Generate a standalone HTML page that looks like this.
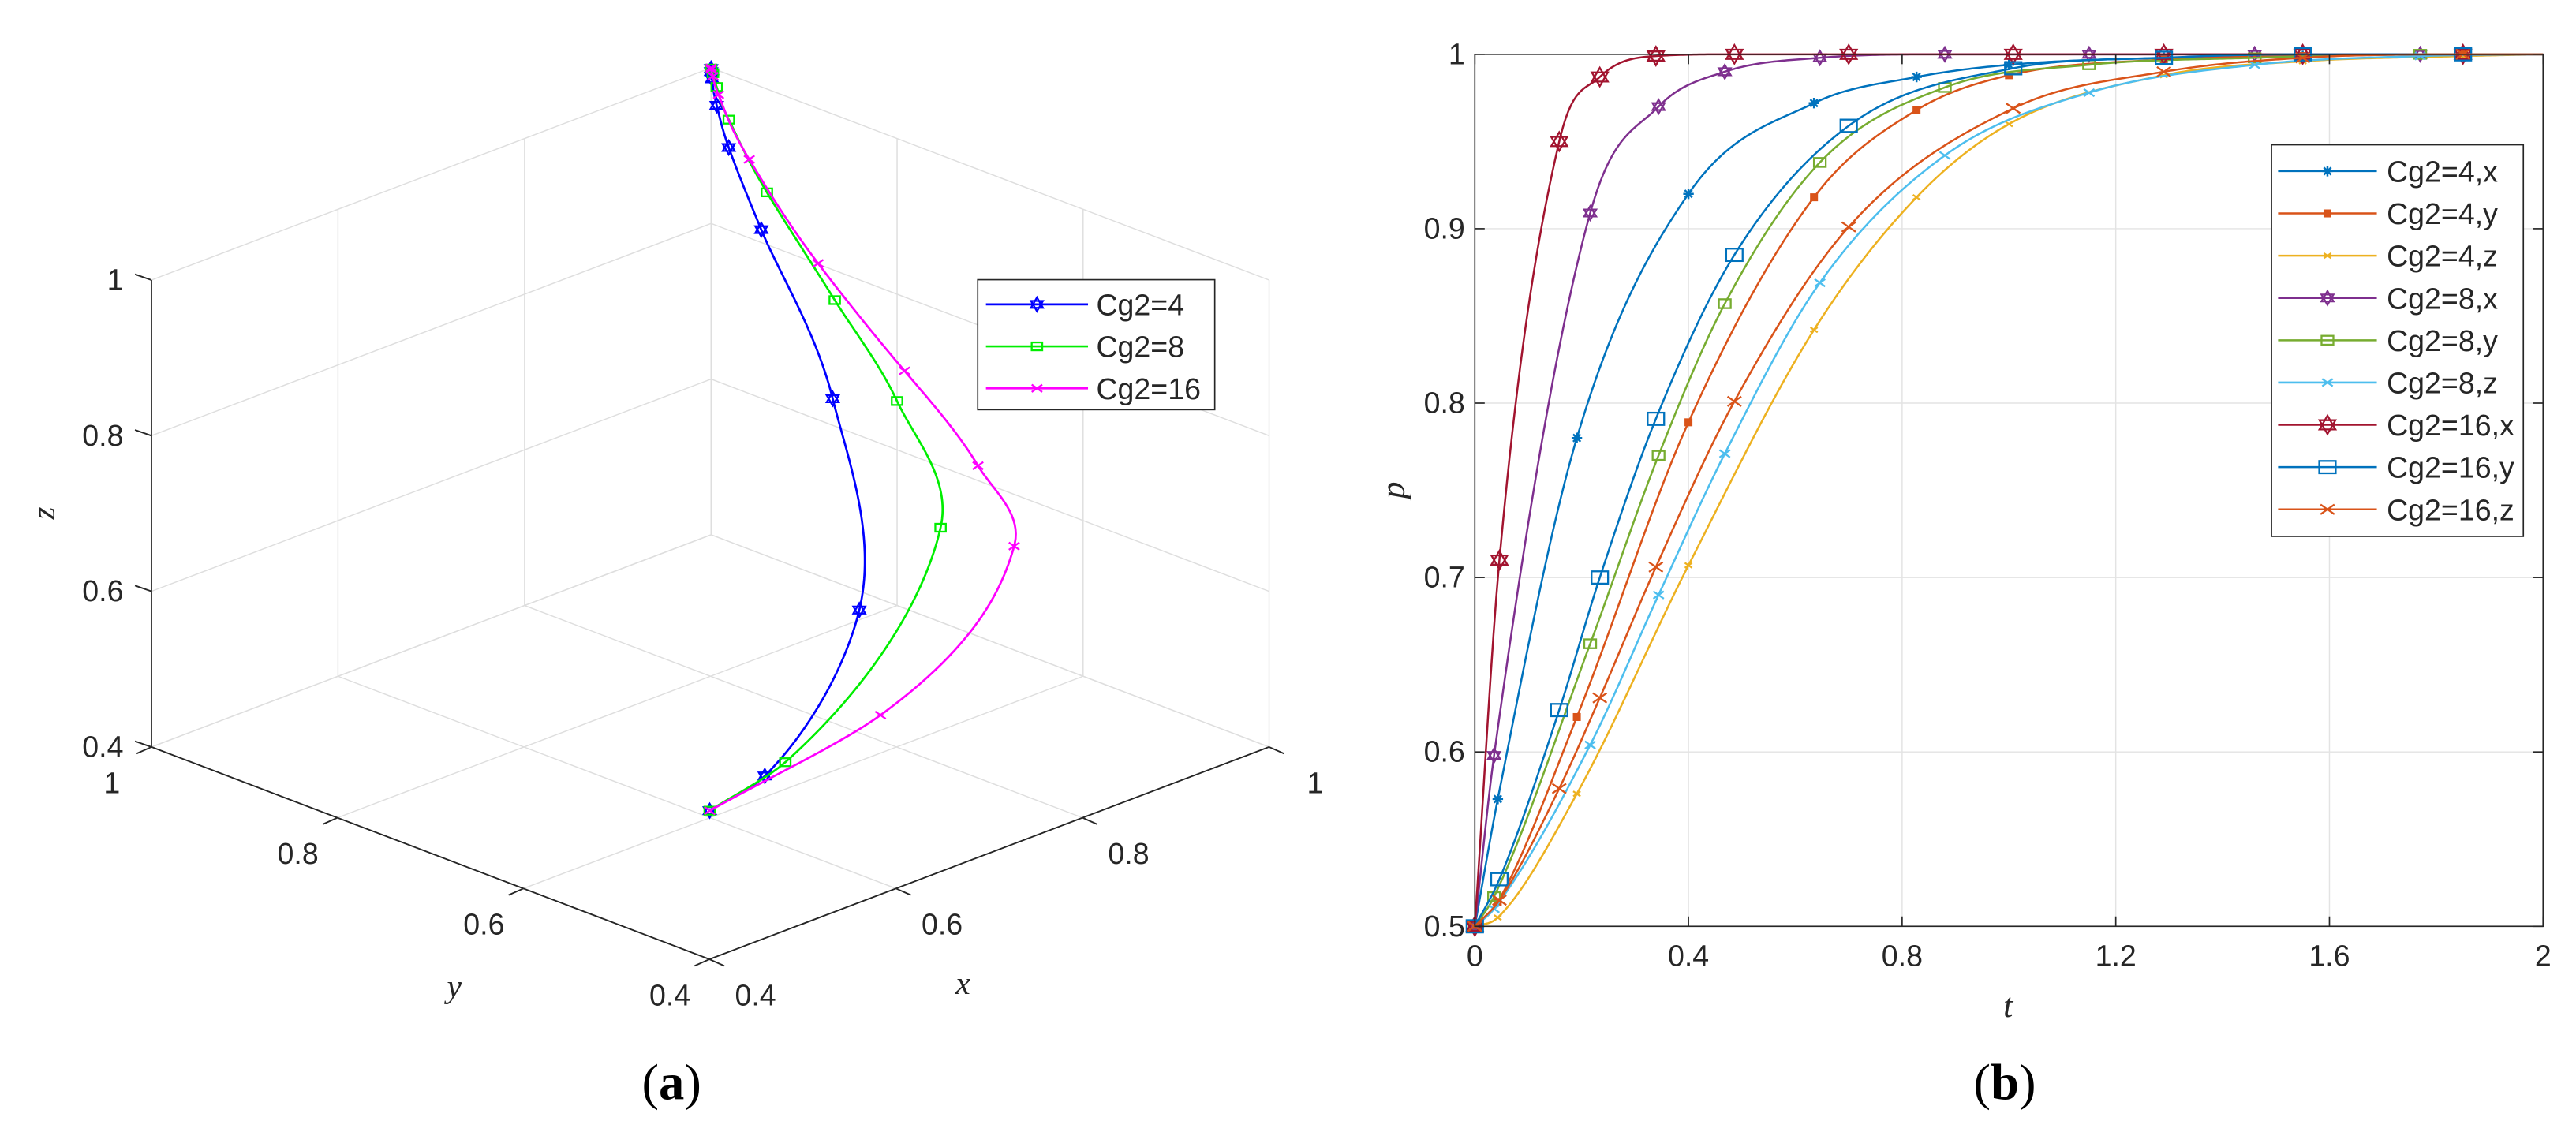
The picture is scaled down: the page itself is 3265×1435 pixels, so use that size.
<!DOCTYPE html>
<html><head><meta charset="utf-8"><style>
html,body{margin:0;padding:0;background:#fff;}
svg{display:block;}
text{font-family:"Liberation Sans",sans-serif;fill:#262626;}
.it{font-family:"Liberation Serif",serif;font-style:italic;}
.cap{font-family:"Liberation Serif",serif;fill:#000;}
</style></head><body>
<svg id="fig" width="3265" height="1435" viewBox="0 0 1565 688" preserveAspectRatio="none" xmlns="http://www.w3.org/2000/svg">
<g id="pa"></g>
<g id="pb"></g>
<text class="cap" x="408" y="668" font-size="31" text-anchor="middle">(<tspan font-weight="bold">a</tspan>)</text>
<text class="cap" x="1218" y="668" font-size="31" text-anchor="middle">(<tspan font-weight="bold">b</tspan>)</text>
</svg>
<script>
// ---- data (time t, probability p) ----
const t4 = [0,0.043,0.191,0.4,0.635,0.827,1.0,1.29,1.55,1.85,2];
const cg4x = [0.5,0.573,0.78,0.92,0.972,0.987,0.994,0.998,0.999,1,1];
const cg4y = [0.5,0.514,0.62,0.789,0.918,0.968,0.988,0.997,0.999,1,1];
const cg4z = [0.5,0.505,0.576,0.707,0.842,0.918,0.96,0.988,0.996,0.999,1];
const t8 = [0,0.036,0.216,0.344,0.468,0.646,0.88,1.15,1.46,1.77,2];
const cg8x = [0.5,0.598,0.909,0.970,0.990,0.998,1,1,1,1,1];
const cg8y = [0.5,0.517,0.662,0.770,0.857,0.938,0.981,0.994,0.998,1,1];
const cg8z = [0.5,0.51,0.604,0.690,0.771,0.869,0.942,0.978,0.994,0.999,1];
const t16 = [0,0.046,0.158,0.234,0.339,0.486,0.70,1.008,1.29,1.55,1.85,2];
const cg16x = [0.5,0.71,0.95,0.987,0.999,1,1,1,1,1,1,1];
const cg16y = [0.5,0.527,0.624,0.700,0.791,0.885,0.959,0.992,0.998,1,1,1];
const cg16z = [0.5,0.515,0.579,0.631,0.706,0.801,0.901,0.969,0.99,0.998,1,1];
const tTicks = [0,0.4,0.8,1.2,1.6,2];
const tTickLabels = ["0","0.4","0.8","1.2","1.6","2"];
const pTicks = [0.5,0.6,0.7,0.8,0.9,1];
const pTickLabels = ["0.5","0.6","0.7","0.8","0.9","1"];
const cubeTicks = [0.4,0.6,0.8,1];
const cubeTickLabels = ["0.4","0.6","0.8","1"];
const seriesNamesB = ["Cg2=4,x","Cg2=4,y","Cg2=4,z","Cg2=8,x","Cg2=8,y","Cg2=8,z","Cg2=16,x","Cg2=16,y","Cg2=16,z"];
const seriesNamesA = ["Cg2=4","Cg2=8","Cg2=16"];

const NS="http://www.w3.org/2000/svg";
function mk(parent,tag,attrs){const e=document.createElementNS(NS,tag);for(const k in attrs)e.setAttribute(k,attrs[k]);parent.appendChild(e);return e;}

function interp(xs,ys,x){
  const n=xs.length;
  if(x<=xs[0])return ys[0]; if(x>=xs[n-1])return ys[n-1];
  const d=[],m=[];
  for(let i=0;i<n-1;i++)d.push((ys[i+1]-ys[i])/(xs[i+1]-xs[i]));
  m[0]=d[0]; m[n-1]=d[n-2];
  for(let i=1;i<n-1;i++){ if(d[i-1]*d[i]<=0)m[i]=0; else m[i]=(d[i-1]+d[i])/2; }
  for(let i=0;i<n-1;i++){ if(d[i]===0){m[i]=0;m[i+1]=0;continue;} const a=m[i]/d[i],b=m[i+1]/d[i],s=a*a+b*b; if(s>9){const tt=3/Math.sqrt(s);m[i]=tt*a*d[i];m[i+1]=tt*b*d[i];} }
  let i=0; while(x>xs[i+1])i++;
  const h=xs[i+1]-xs[i], u=(x-xs[i])/h;
  const h00=2*u*u*u-3*u*u+1,h10=u*u*u-2*u*u+u,h01=-2*u*u*u+3*u*u,h11=u*u*u-u*u;
  return h00*ys[i]+h10*h*m[i]+h01*ys[i+1]+h11*h*m[i+1];
}

function marker(g,type,cx,cy,s,color){
  let e;
  if(type==='hex'){
    let p1='',p2='';
    for(let k=0;k<3;k++){const a1=-Math.PI/2+k*2*Math.PI/3,a2=Math.PI/2+k*2*Math.PI/3;
      p1+=(cx+s*Math.cos(a1)).toFixed(2)+','+(cy+s*Math.sin(a1)).toFixed(2)+' ';
      p2+=(cx+s*Math.cos(a2)).toFixed(2)+','+(cy+s*Math.sin(a2)).toFixed(2)+' ';}
    e=mk(g,'g',{});
    mk(e,'polygon',{points:p1,fill:'none',stroke:color,'stroke-width':1.1});
    mk(e,'polygon',{points:p2,fill:'none',stroke:color,'stroke-width':1.1});
  } else if(type==='sq'){
    e=mk(g,'rect',{x:cx-s,y:cy-s*0.75,width:2*s,height:1.5*s,fill:'none',stroke:color,'stroke-width':1.1});
  } else if(type==='fsq'){
    e=mk(g,'rect',{x:cx-s,y:cy-s,width:2*s,height:2*s,fill:color,stroke:color,'stroke-width':0.8});
  } else if(type==='x'){
    e=mk(g,'path',{d:`M${cx-s},${cy-s*0.7}L${cx+s},${cy+s*0.7}M${cx-s},${cy+s*0.7}L${cx+s},${cy-s*0.7}`,stroke:color,'stroke-width':1.1,fill:'none'});
  } else if(type==='star'){
    e=mk(g,'path',{d:`M${cx-s},${cy}L${cx+s},${cy}M${cx},${cy-s}L${cx},${cy+s}M${cx-s*0.7},${cy-s*0.7}L${cx+s*0.7},${cy+s*0.7}M${cx-s*0.7},${cy+s*0.7}L${cx+s*0.7},${cy-s*0.7}`,stroke:color,'stroke-width':1.2,fill:'none'});
  }
  return e;
}

// ================= Panel B =================
const pb=document.getElementById('pb');
const bx0=896,bx1=1545,by0=33,by1=563;
const tx=t=>bx0+(t-0)/(2-0)*(bx1-bx0);
const py=p=>by1-(p-0.5)/(1-0.5)*(by1-by0);
tTicks.forEach((t,i)=>{ if(i>0&&i<tTicks.length-1){const l=mk(pb,'line',{x1:tx(t),x2:tx(t),y1:by0,y2:by1,stroke:'#e3e3e3','stroke-width':0.7});

}});
pTicks.forEach((p,i)=>{ if(i>0&&i<pTicks.length-1){const l=mk(pb,'line',{x1:bx0,x2:bx1,y1:py(p),y2:py(p),stroke:'#e3e3e3','stroke-width':0.7});

}});
const bSeries=[
 {t:t4,p:cg4x,c:'#0072BD',m:'star',s:3.2},
 {t:t4,p:cg4y,c:'#D95319',m:'fsq',s:2},
 {t:t4,p:cg4z,c:'#EDB120',m:'x',s:2.2},
 {t:t8,p:cg8x,c:'#7E2F8E',m:'hex',s:4.2},
 {t:t8,p:cg8y,c:'#77AC30',m:'sq',s:3.6},
 {t:t8,p:cg8z,c:'#4DBEEE',m:'x',s:3.2},
 {t:t16,p:cg16x,c:'#A2142F',m:'hex',s:5.6},
 {t:t16,p:cg16y,c:'#0072BD',m:'sq',s:5},
 {t:t16,p:cg16z,c:'#D95319',m:'x',s:4.2}
];
bSeries.forEach((S,si)=>{
  const g=mk(pb,'g',{});
  
  
  let d='';
  for(let t=0;t<=2.0001;t+=0.005){d+=(d?'L':'M')+tx(t).toFixed(2)+','+py(interp(S.t,S.p,t)).toFixed(2);}
  const path=mk(g,'path',{d:d,fill:'none',stroke:S.c,'stroke-width':1.2});
  
  
  for(let i=0;i<S.t.length-1;i++){
    const mm=marker(g,S.m,tx(S.t[i]),py(S.p[i]),S.s,S.c);
    
    
  }
});
mk(pb,'rect',{x:bx0,y:by0,width:bx1-bx0,height:by1-by0,fill:'none',stroke:'#262626','stroke-width':0.8,});
tTicks.forEach((t,i)=>{
  mk(pb,'line',{x1:tx(t),x2:tx(t),y1:by1,y2:by1-6,stroke:'#262626','stroke-width':0.8});
  mk(pb,'line',{x1:tx(t),x2:tx(t),y1:by0,y2:by0+6,stroke:'#262626','stroke-width':0.8});
  const tl=mk(pb,'text',{x:tx(t),y:py(0.5)+24,'font-size':18,'text-anchor':'middle'});
  tl.textContent=tTickLabels[i];
  
  
});
pTicks.forEach((p,i)=>{
  mk(pb,'line',{x1:bx0,x2:bx0+6,y1:py(p),y2:py(p),stroke:'#262626','stroke-width':0.8});
  mk(pb,'line',{x1:bx1,x2:bx1-6,y1:py(p),y2:py(p),stroke:'#262626','stroke-width':0.8});
  const pl=mk(pb,'text',{x:bx0-6,y:py(p)+6,'font-size':18,'text-anchor':'end'});
  pl.textContent=pTickLabels[i];
  
  
});
const tlab=mk(pb,'text',{class:'it',x:1220,y:618,'font-size':21,'text-anchor':'middle'});tlab.textContent='t';


const plab=mk(pb,'text',{class:'it',x:0,y:0,'font-size':21,'text-anchor':'middle',transform:'translate(853,298) rotate(-90)'});plab.textContent='p';


const lgB=mk(pb,'g',{});


const LBx=1380,LBy=88,LBw=153,LBh=238;
mk(lgB,'rect',{x:LBx,y:LBy,width:LBw,height:LBh,fill:'#fff',stroke:'#262626','stroke-width':0.8});
bSeries.forEach((S,i)=>{
  const yy=LBy+16+i*25.7;
  const e=mk(lgB,'g',{});
  
  
  mk(e,'line',{x1:LBx+4,x2:LBx+64,y1:yy,y2:yy,stroke:S.c,'stroke-width':1.2});
  marker(e,S.m,LBx+34,yy,S.s,S.c);
  const tt=mk(e,'text',{x:LBx+70,y:yy+6.5,'font-size':18});tt.textContent=seriesNamesB[i];
});

// ================= Panel A =================
const pa=document.getElementById('pa');
const P=(x,y,z)=>[431+(x-0.4)*566.7-(y-0.4)*565, 583-(x-0.4)*215-(y-0.4)*215-(z-0.4)*473];
function line3(g,a,b,st,w){const p1=P(...a),p2=P(...b);return mk(g,'line',{x1:p1[0],y1:p1[1],x2:p2[0],y2:p2[1],stroke:st,'stroke-width':w});}
const gridA=mk(pa,'g',{});


const gc='#dedede',gw=0.7;
cubeTicks.forEach(v=>{
  line3(gridA,[v,1,0.4],[v,1,1],gc,gw);
  line3(gridA,[0.4,1,v],[1,1,v],gc,gw);
  line3(gridA,[1,v,0.4],[1,v,1],gc,gw);
  line3(gridA,[1,0.4,v],[1,1,v],gc,gw);
  line3(gridA,[v,0.4,0.4],[v,1,0.4],gc,gw);
  line3(gridA,[0.4,v,0.4],[1,v,0.4],gc,gw);
});
const axA=mk(pa,'g',{});


line3(axA,[0.4,1,0.4],[0.4,1,1],'#262626',0.9);
line3(axA,[0.4,1,0.4],[0.4,0.4,0.4],'#262626',0.9);
line3(axA,[0.4,0.4,0.4],[1,0.4,0.4],'#262626',0.9);
cubeTicks.forEach((v,i)=>{
  let p=P(0.4,1,v); mk(axA,'line',{x1:p[0],y1:p[1],x2:p[0]-10,y2:p[1]-3.5,stroke:'#262626','stroke-width':0.9});
  let t1=mk(axA,'text',{x:p[0]-17,y:p[1]+6,'font-size':18,'text-anchor':'end'});t1.textContent=cubeTickLabels[i];
  
  
  p=P(0.4,v,0.4); mk(axA,'line',{x1:p[0],y1:p[1],x2:p[0]-9,y2:p[1]+4,stroke:'#262626','stroke-width':0.9});
  let t2=mk(axA,'text',{x:p[0]-24,y:p[1]+28,'font-size':18,'text-anchor':'middle'});t2.textContent=cubeTickLabels[i];
  
  
  p=P(v,0.4,0.4); mk(axA,'line',{x1:p[0],y1:p[1],x2:p[0]+9,y2:p[1]+4,stroke:'#262626','stroke-width':0.9});
  let t3=mk(axA,'text',{x:p[0]+28,y:p[1]+28,'font-size':18,'text-anchor':'middle'});t3.textContent=cubeTickLabels[i];
  
  
});
const zl=mk(pa,'text',{class:'it',x:0,y:0,'font-size':20,'text-anchor':'middle',transform:'translate(33,312) rotate(-90)'});zl.textContent='z';


const yl=mk(pa,'text',{class:'it',x:276,y:606,'font-size':20,'text-anchor':'middle'});yl.textContent='y';


const xl=mk(pa,'text',{class:'it',x:585,y:604,'font-size':20,'text-anchor':'middle'});xl.textContent='x';


const aSeries=[
 {t:t4,x:cg4x,y:cg4y,z:cg4z,c:'#0000ff',m:'hex',s:4.2},
 {t:t8,x:cg8x,y:cg8y,z:cg8z,c:'#00ee00',m:'sq',s:3.2},
 {t:t16,x:cg16x,y:cg16y,z:cg16z,c:'#ff00ff',m:'x',s:3.2}
];
aSeries.forEach((S,si)=>{
  const g=mk(pa,'g',{});
  
  
  let d='';
  for(let t=0;t<=2.0001;t+=0.004){const q=P(interp(S.t,S.x,t),interp(S.t,S.y,t),interp(S.t,S.z,t));d+=(d?'L':'M')+q[0].toFixed(2)+','+q[1].toFixed(2);}
  mk(g,'path',{d:d,fill:'none',stroke:S.c,'stroke-width':1.3});
  for(let i=0;i<S.t.length-1;i++){const q=P(S.x[i],S.y[i],S.z[i]);
    const mm=marker(g,S.m,q[0],q[1],S.s,S.c);
    
    }
});
const lgA=mk(pa,'g',{});


mk(lgA,'rect',{x:594,y:170,width:144,height:79,fill:'#fff',stroke:'#262626','stroke-width':0.8});
aSeries.forEach((S,i)=>{
  const yy=185+i*25.5;
  const e=mk(lgA,'g',{});
  
  
  mk(e,'line',{x1:599,x2:661,y1:yy,y2:yy,stroke:S.c,'stroke-width':1.3});
  marker(e,S.m,630,yy,S.s,S.c);
  const tt=mk(e,'text',{x:666,y:yy+6.5,'font-size':18});tt.textContent=seriesNamesA[i];
});
</script>
</body></html>
